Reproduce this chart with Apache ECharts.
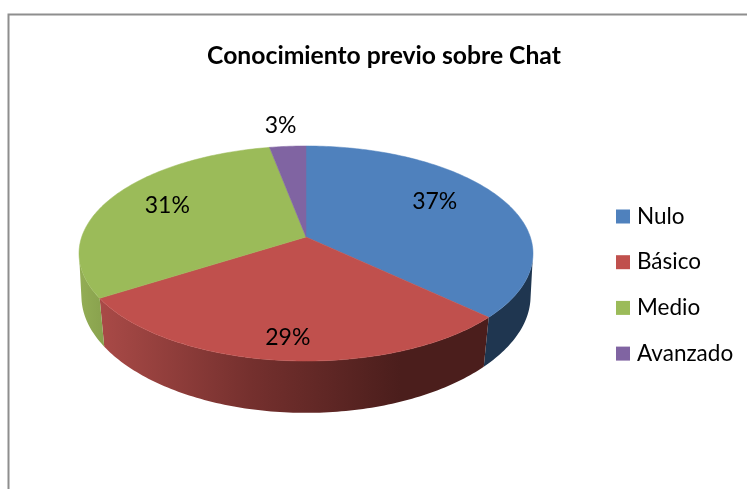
<!DOCTYPE html>
<html><head><meta charset="utf-8">
<style>html,body{margin:0;padding:0;background:#fff}#c{width:747px;height:489px}</style>
<script src="https://cdn.jsdelivr.net/npm/echarts@6/dist/echarts.min.js"></script></head>
<body><div id="c"></div>
<script>
const categories = ['Nulo', 'Básico', 'Medio', 'Avanzado'];
const percentages = [37, 29, 31, 3];
const topColors = ['#4f81bd', '#c0504d', '#9bbb59', '#8064a2'];
const titleText = 'Conocimiento previo sobre Chat';

// Projection of the tilted pie
const apex = {x: 306, y: 237}, radiusX = 224.3, radiusY = 105, persp = 0.1535;
const labelR = 0.65;
const labelNudge = [[0, -9], [-3, 25], [-10, -5], [-13, -50]];
const total = percentages.reduce((a, b) => a + b, 0);
// Angle at which the rim reaches its widest point: the wall is visible between these
const silhouette = 90 + Math.asin(persp) * 180 / Math.PI;

function project(deg, r) {
  const t = deg * Math.PI / 180, u = r * Math.sin(t), v = r * Math.cos(t), w = 1 + persp * v;
  return [apex.x + radiusX * u / w, apex.y - radiusY * v / w];
}
function lower(p) {
  const off = p[1] - apex.y;
  return [apex.x + (p[0] - apex.x) * (0.993 - 0.00025 * off), p[1] + 45 + 0.055 * off];
}
function sliceRange(i) {
  let s = 0;
  for (let k = 0; k < i; k++) s += percentages[k];
  return [s / total * 360, (s + percentages[i]) / total * 360];
}
function arc(a, b) {
  const pts = [], n = Math.max(2, Math.ceil(Math.abs(b - a)));
  for (let i = 0; i <= n; i++) pts.push(project(a + (b - a) * i / n, 1));
  return pts;
}
const sideFills = [
  '#1f3650',
  new echarts.graphic.LinearGradient(100, 0, 400, 0, [
    {offset: 0, color: '#a94a47'}, {offset: 0.5, color: '#75302e'}, {offset: 1, color: '#4b1e1c'}
  ], true),
  new echarts.graphic.LinearGradient(80, 0, 105, 0, [
    {offset: 0, color: '#93ad55'}, {offset: 1, color: '#88a14d'}
  ], true)
];

const series = [];
// Side walls, front half only
series.push({
  type: 'custom', name: 'lado', coordinateSystem: 'none', silent: true, z: 1,
  data: percentages,
  renderItem(params) {
    const i = params.dataIndex, r = sliceRange(i);
    const a = Math.max(r[0], silhouette), b = Math.min(r[1], 360 - silhouette);
    if (a >= b) return {type: 'group', children: []};
    const upper = arc(a, b), low = upper.map(lower).reverse();
    return {type: 'polygon', shape: {points: upper.concat(low)},
      style: {fill: sideFills[i] , lineWidth: 0}};
  }
});
// Top faces, one series per category so that the legend lists them
categories.forEach((name, idx) => {
  series.push({
    type: 'custom', name, coordinateSystem: 'none', silent: true, z: 2,
    itemStyle: {color: topColors[idx]},
    data: [percentages[idx]],
    renderItem() {
      const r = sliceRange(idx);
      return {type: 'polygon', shape: {points: [[apex.x, apex.y]].concat(arc(r[0], r[1]))},
        style: {fill: topColors[idx], stroke: topColors[idx], lineWidth: 0.5}};
    }
  });
});
// Percentage labels
series.push({
  type: 'custom', name: 'etiquetas', coordinateSystem: 'none', silent: true, z: 3,
  data: percentages,
  renderItem(params, api) {
    const i = params.dataIndex, r = sliceRange(i), p = project((r[0] + r[1]) / 2, labelR);
    return {type: 'text', style: {
      x: p[0] + labelNudge[i][0], y: p[1] + labelNudge[i][1],
      text: api.value(0) + '%', fill: '#000', align: 'center', verticalAlign: 'middle',
      font: '23px Lato'}};
  }
});

const chart = echarts.init(document.getElementById('c'), null, {renderer: 'canvas'});
chart.setOption({
  animation: false,
  backgroundColor: '#fff',
  title: {text: titleText, left: 379, top: 39, textAlign: 'center',
    textStyle: {fontFamily: 'Lato', fontWeight: 'bold', fontSize: 24.7, color: '#000'}},
  legend: {data: categories.map(name => ({name, icon: 'rect'})), orient: 'vertical', left: 611, top: 200,
    itemWidth: 14, itemHeight: 14, itemGap: 22.7, selectedMode: false,
    textStyle: {fontFamily: 'Lato', fontSize: 22.5, lineHeight: 14, color: '#000', padding: [0, 0, 0, 2]}},
  graphic: [{type: 'rect', silent: true, shape: {x: 8.5, y: 14.5, width: 1000, height: 1000},
    style: {fill: 'none', stroke: '#8e8e8e', lineWidth: 2}}],
  series
});
</script></body></html>
